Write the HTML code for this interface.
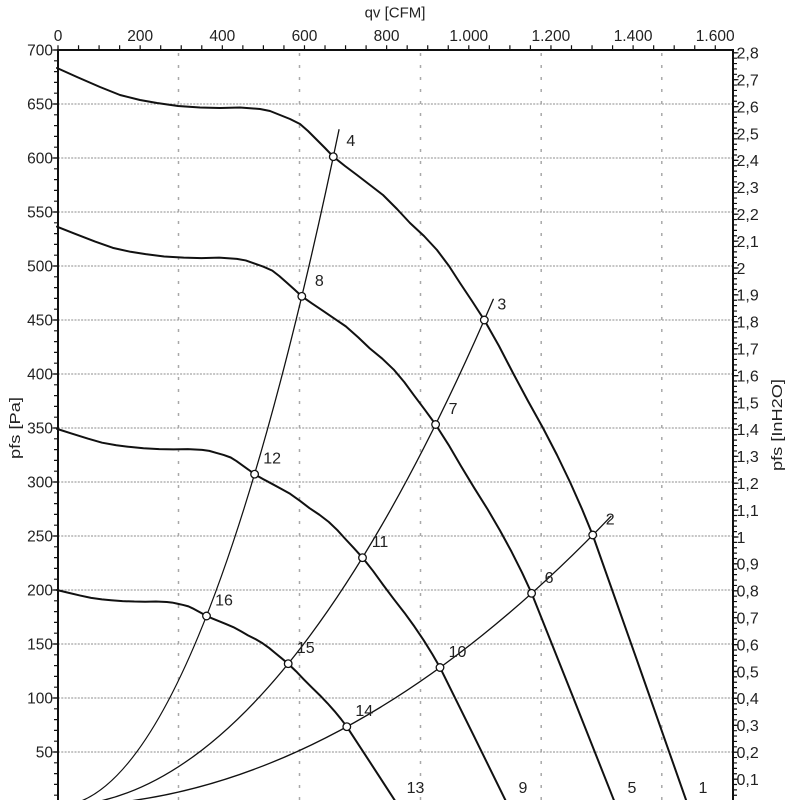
<!DOCTYPE html>
<html>
<head>
<meta charset="utf-8">
<style>
  html,body{margin:0;padding:0;background:#fff;}
  svg{display:block;}
  text{font-family:"Liberation Sans",Arial,sans-serif;fill:#222;}
</style>
</head>
<body>
<svg width="800" height="800" viewBox="0 0 800 800" xmlns="http://www.w3.org/2000/svg">
  <rect x="0" y="0" width="800" height="800" fill="#fff"/>

  <!-- horizontal grid -->
  <g stroke="#8c8c8c" stroke-width="1" stroke-dasharray="2 1.3" fill="none">
    <line x1="58" y1="104" x2="733" y2="104"/>
    <line x1="58" y1="158" x2="733" y2="158"/>
    <line x1="58" y1="212" x2="733" y2="212"/>
    <line x1="58" y1="266" x2="733" y2="266"/>
    <line x1="58" y1="320" x2="733" y2="320"/>
    <line x1="58" y1="374" x2="733" y2="374"/>
    <line x1="58" y1="428" x2="733" y2="428"/>
    <line x1="58" y1="482" x2="733" y2="482"/>
    <line x1="58" y1="536" x2="733" y2="536"/>
    <line x1="58" y1="590" x2="733" y2="590"/>
    <line x1="58" y1="644" x2="733" y2="644"/>
    <line x1="58" y1="698" x2="733" y2="698"/>
    <line x1="58" y1="752" x2="733" y2="752"/>
  </g>
  <!-- vertical grid -->
  <g stroke="#a8a8a8" stroke-width="1.5" stroke-dasharray="3 9" fill="none">
    <line x1="178.5" y1="53" x2="178.5" y2="806"/>
    <line x1="299.5" y1="53" x2="299.5" y2="806"/>
    <line x1="420.5" y1="53" x2="420.5" y2="806"/>
    <line x1="541.2" y1="53" x2="541.2" y2="806"/>
    <line x1="661.8" y1="53" x2="661.8" y2="806"/>
  </g>

  <!-- ticks -->
  <g stroke="#111" fill="none">
    <line x1="56" y1="49.4" x2="56" y2="807" stroke-width="4" stroke-dasharray="1.2 9.6"/>
    <line x1="55.3" y1="49.4" x2="55.3" y2="807" stroke-width="5.5" stroke-dasharray="1.2 52.8"/>
    <line x1="735" y1="806.6" x2="735" y2="51" stroke-width="4" stroke-dasharray="1.2 4.18"/>
    <line x1="735.7" y1="806.6" x2="735.7" y2="51" stroke-width="5.5" stroke-dasharray="1.2 25.7"/>
    <line x1="57.4" y1="47.5" x2="734" y2="47.5" stroke-width="4.5" stroke-dasharray="1.2 19.34"/>
  </g>

  <!-- axes frame -->
  <g stroke="#111" stroke-width="2" fill="none">
    <line x1="58" y1="49" x2="58" y2="806"/>
    <line x1="57" y1="50" x2="734" y2="50"/>
    <line x1="733" y1="49" x2="733" y2="806"/>
  </g>

  <!-- curves -->
  <g transform="translate(57,806)" fill="none" stroke="#111" stroke-linejoin="round" stroke-linecap="round">
    <g stroke-width="1.3">
      <path d="M0 0 Q141 0 282 -676.3"/>
      <path d="M0 0 Q218.15 0 436.3 -506.7"/>
      <path d="M0 0 Q277 0 554 -289.7"/>
    </g>
    <g stroke-width="2">
      <polyline vector-effect="non-scaling-stroke" transform="scale(1,1)" points="0,-738 20,-729 43,-719 63,-711 83,-706 100,-703 121,-700 143,-698.5 163,-698 183,-698.5 203,-697 213,-695 223,-691 233,-687 243,-682 251,-675 259,-667 268,-658 276.3,-649.3 288,-640 300,-631 313,-621 326,-611 340,-597 353,-583 367,-570 380,-556 392,-540 403,-523 415,-505 427.3,-486 442,-460 456,-433 471,-405 486,-378 500,-351 513,-324 525,-297 535.7,-271 582,-140 628,-9 640,25"/>
      <polyline vector-effect="non-scaling-stroke" transform="scale(0.886,0.785)" points="0,-738 20,-729 43,-719 63,-711 83,-706 100,-703 121,-700 143,-698.5 163,-698 183,-698.5 203,-697 213,-695 223,-691 233,-687 243,-682 251,-675 259,-667 268,-658 276.3,-649.3 288,-640 300,-631 313,-621 326,-611 340,-597 353,-583 367,-570 380,-556 392,-540 403,-523 415,-505 427.3,-486 442,-460 456,-433 471,-405 486,-378 500,-351 513,-324 525,-297 535.7,-271 582,-140 628,-9 640,25"/>
      <polyline vector-effect="non-scaling-stroke" transform="scale(0.715,0.511)" points="0,-738 20,-729 43,-719 63,-711 83,-706 100,-703 121,-700 143,-698.5 163,-698 183,-698.5 203,-697 213,-695 223,-691 233,-687 243,-682 251,-675 259,-667 268,-658 276.3,-649.3 288,-640 300,-631 313,-621 326,-611 340,-597 353,-583 367,-570 380,-556 392,-540 403,-523 415,-505 427.3,-486 442,-460 456,-433 471,-405 486,-378 500,-351 513,-324 525,-297 535.7,-271 582,-140 628,-9 640,25"/>
      <polyline vector-effect="non-scaling-stroke" transform="scale(0.541,0.2927)" points="0,-738 20,-729 43,-719 63,-711 83,-706 100,-703 121,-700 143,-698.5 163,-698 183,-698.5 203,-697 213,-695 223,-691 233,-687 243,-682 251,-675 259,-667 268,-658 276.3,-649.3 288,-640 300,-631 313,-621 326,-611 340,-597 353,-583 367,-570 380,-556 392,-540 403,-523 415,-505 427.3,-486 442,-460 456,-433 471,-405 486,-378 500,-351 513,-324 525,-297 535.7,-271 582,-140 628,-9 640,25"/>
    </g>
  </g>

  <!-- markers -->
  <g fill="#fff" stroke="#111" stroke-width="1.3">
    <circle cx="333.3" cy="156.7" r="3.8"/>
    <circle cx="484.3" cy="320" r="3.8"/>
    <circle cx="592.7" cy="535" r="3.8"/>
    <circle cx="301.8" cy="296.3" r="3.8"/>
    <circle cx="435.6" cy="424.5" r="3.8"/>
    <circle cx="531.6" cy="593.3" r="3.8"/>
    <circle cx="254.6" cy="474.2" r="3.8"/>
    <circle cx="362.5" cy="557.7" r="3.8"/>
    <circle cx="440" cy="667.5" r="3.8"/>
    <circle cx="206.5" cy="616" r="3.8"/>
    <circle cx="288.2" cy="663.7" r="3.8"/>
    <circle cx="346.8" cy="726.7" r="3.8"/>
  </g>

  <!-- point labels -->
  <g font-size="16" text-anchor="middle">
    <text x="350.8" y="146.2">4</text>
    <text x="501.8" y="309.5">3</text>
    <text x="610.2" y="524.5">2</text>
    <text x="319.3" y="285.8">8</text>
    <text x="453.1" y="414">7</text>
    <text x="549.1" y="582.8">6</text>
    <text x="272.1" y="463.7">12</text>
    <text x="380" y="547.2">11</text>
    <text x="457.5" y="657">10</text>
    <text x="224" y="605.5">16</text>
    <text x="305.7" y="653.2">15</text>
    <text x="364.3" y="716.2">14</text>
    <text x="415.5" y="793">13</text>
    <text x="523" y="793">9</text>
    <text x="632" y="793">5</text>
    <text x="703" y="793">1</text>
  </g>

  <!-- top axis labels -->
  <g font-size="15.5" text-anchor="middle">
    <text x="58" y="41">0</text>
    <text x="140.2" y="41">200</text>
    <text x="222.3" y="41">400</text>
    <text x="304.5" y="41">600</text>
    <text x="386.6" y="41">800</text>
    <text x="468.8" y="41">1.000</text>
    <text x="550.9" y="41">1.200</text>
    <text x="633.1" y="41">1.400</text>
    <text x="715.2" y="41">1.600</text>
  </g>
  <text x="395" y="17.5" font-size="15" text-anchor="middle">qv [CFM]</text>

  <!-- left axis labels -->
  <g font-size="15.5" text-anchor="end">
    <text x="53" y="55.5">700</text>
    <text x="53" y="109.5">650</text>
    <text x="53" y="163.5">600</text>
    <text x="53" y="217.5">550</text>
    <text x="53" y="271.5">500</text>
    <text x="53" y="325.5">450</text>
    <text x="53" y="379.5">400</text>
    <text x="53" y="433.5">350</text>
    <text x="53" y="487.5">300</text>
    <text x="53" y="541.5">250</text>
    <text x="53" y="595.5">200</text>
    <text x="53" y="649.5">150</text>
    <text x="53" y="703.5">100</text>
    <text x="53" y="757.5">50</text>
    <text x="53" y="811.5">0</text>
  </g>
  <text transform="translate(20,428) rotate(-90)" font-size="15" text-anchor="middle" textLength="62" lengthAdjust="spacingAndGlyphs">pfs [Pa]</text>

  <!-- right axis labels -->
  <g font-size="16" text-anchor="start">
    <text x="736.5" y="58.6">2,8</text>
    <text x="736.5" y="85.5">2,7</text>
    <text x="736.5" y="112.4">2,6</text>
    <text x="736.5" y="139.3">2,5</text>
    <text x="736.5" y="166.2">2,4</text>
    <text x="736.5" y="193.1">2,3</text>
    <text x="736.5" y="220">2,2</text>
    <text x="736.5" y="246.9">2,1</text>
    <text x="736.5" y="273.8">2</text>
    <text x="736.5" y="300.7">1,9</text>
    <text x="736.5" y="327.6">1,8</text>
    <text x="736.5" y="354.5">1,7</text>
    <text x="736.5" y="381.4">1,6</text>
    <text x="736.5" y="408.3">1,5</text>
    <text x="736.5" y="435.2">1,4</text>
    <text x="736.5" y="462.1">1,3</text>
    <text x="736.5" y="489">1,2</text>
    <text x="736.5" y="515.9">1,1</text>
    <text x="736.5" y="542.8">1</text>
    <text x="736.5" y="569.7">0,9</text>
    <text x="736.5" y="596.6">0,8</text>
    <text x="736.5" y="623.5">0,7</text>
    <text x="736.5" y="650.4">0,6</text>
    <text x="736.5" y="677.3">0,5</text>
    <text x="736.5" y="704.2">0,4</text>
    <text x="736.5" y="731.1">0,3</text>
    <text x="736.5" y="758">0,2</text>
    <text x="736.5" y="784.9">0,1</text>
    <text x="736.5" y="811.8">0</text>
  </g>
  <text transform="translate(782,425) rotate(-90)" font-size="15" text-anchor="middle" textLength="92" lengthAdjust="spacingAndGlyphs">pfs [InH2O]</text>
</svg>
</body>
</html>
